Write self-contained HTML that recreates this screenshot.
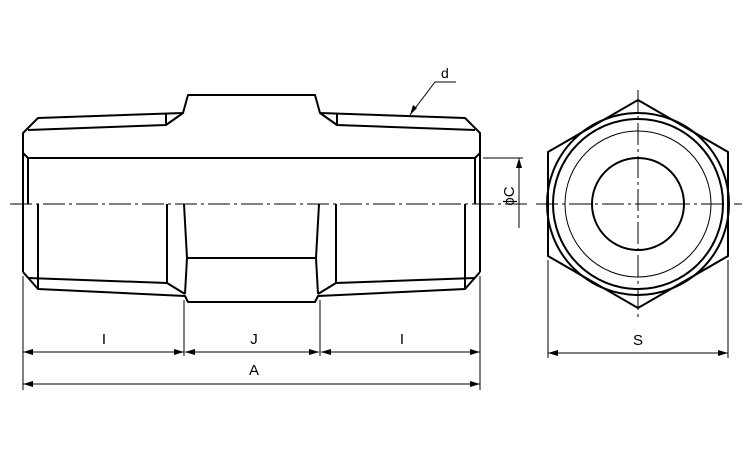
<!DOCTYPE html>
<html><head><meta charset="utf-8"><style>html,body{margin:0;padding:0;background:#fff}svg{display:block}</style></head>
<body>
<svg width="750" height="450" viewBox="0 0 750 450" xmlns="http://www.w3.org/2000/svg">
<defs>
<marker id="ar" viewBox="0 0 10 6" refX="10" refY="3" markerWidth="10" markerHeight="6" markerUnits="userSpaceOnUse" orient="auto-start-reverse"><path d="M0,0 L10,3 L0,6 z" fill="#000"/></marker>
</defs>
<g id="half" fill="none" stroke="#000" stroke-width="2" stroke-linejoin="round">
<path d="M23,272 L23,133 L38,118 L183,113 L188,95 L252,95"/>
<path d="M28,130 L166,125 L183,113 M166,125 L166,114"/>
<path d="M23,153 L28,158 L252,158 M28,158 L28,204"/>
<path d="M23,272 L38,289 L185,296 L188,302 L252,302 M38,289 L38,204"/>
<path d="M28,278 L167,283 L185,294 M167,283 L167,204"/>
<path d="M184,204 L187,258 L185,294 M187,258 L252,258"/>
</g>
<use href="#half" transform="translate(503,0) scale(-1,1)"/>
<line x1="10" y1="204" x2="528" y2="204" stroke="#000" stroke-width="1" stroke-dasharray="22,4,3,4"/>
<path d="M410,115 L435,82 L456,82" fill="none" stroke="#000" stroke-width="1"/>
<path d="M410,115 L413,105 L417,108 z" fill="#000"/>
<text x="441" y="78" font-family="Liberation Sans, sans-serif" font-size="14">d</text>
<g stroke="#000" stroke-width="1" fill="none">
<line x1="483" y1="158" x2="523" y2="158"/>
<line x1="519" y1="228" x2="519" y2="158" marker-end="url(#ar)"/>
</g>
<text transform="translate(514,196) rotate(-90)" font-family="Liberation Sans, sans-serif" font-size="15" text-anchor="middle">ϕC</text>
<g stroke="#000" stroke-width="1" fill="none">
<line x1="23" y1="276" x2="23" y2="390"/>
<line x1="184" y1="300" x2="184" y2="356"/>
<line x1="320" y1="300" x2="320" y2="356"/>
<line x1="480" y1="276" x2="480" y2="390"/>
<line x1="23" y1="352" x2="184" y2="352" marker-start="url(#ar)" marker-end="url(#ar)"/>
<line x1="185" y1="352" x2="319" y2="352" marker-start="url(#ar)" marker-end="url(#ar)"/>
<line x1="321" y1="352" x2="480" y2="352" marker-start="url(#ar)" marker-end="url(#ar)"/>
<line x1="23" y1="384" x2="480" y2="384" marker-start="url(#ar)" marker-end="url(#ar)"/>
<line x1="548" y1="260" x2="548" y2="358"/>
<line x1="728" y1="260" x2="728" y2="358"/>
<line x1="548" y1="353" x2="728" y2="353" marker-start="url(#ar)" marker-end="url(#ar)"/>
</g>
<g font-family="Liberation Sans, sans-serif" font-size="15" text-anchor="middle">
<text x="104" y="344">I</text>
<text x="254" y="344">J</text>
<text x="402" y="344">I</text>
<text x="254" y="375">A</text>
<text x="638" y="345">S</text>
</g>
<g fill="none" stroke="#000" stroke-width="2">
<polygon points="638,100 728,152 728,256 638,308 548,256 548,152"/>
<circle cx="638" cy="204" r="91"/>
<circle cx="638" cy="204" r="85"/>
<circle cx="638" cy="204" r="46"/>
</g>
<circle cx="638" cy="204" r="73" fill="none" stroke="#000" stroke-width="1"/>
<g stroke="#000" stroke-width="1" stroke-dasharray="22,4,3,4">
<line x1="536" y1="204" x2="742" y2="204"/>
<line x1="638" y1="90" x2="638" y2="320"/>
</g>
</svg>
</body></html>
